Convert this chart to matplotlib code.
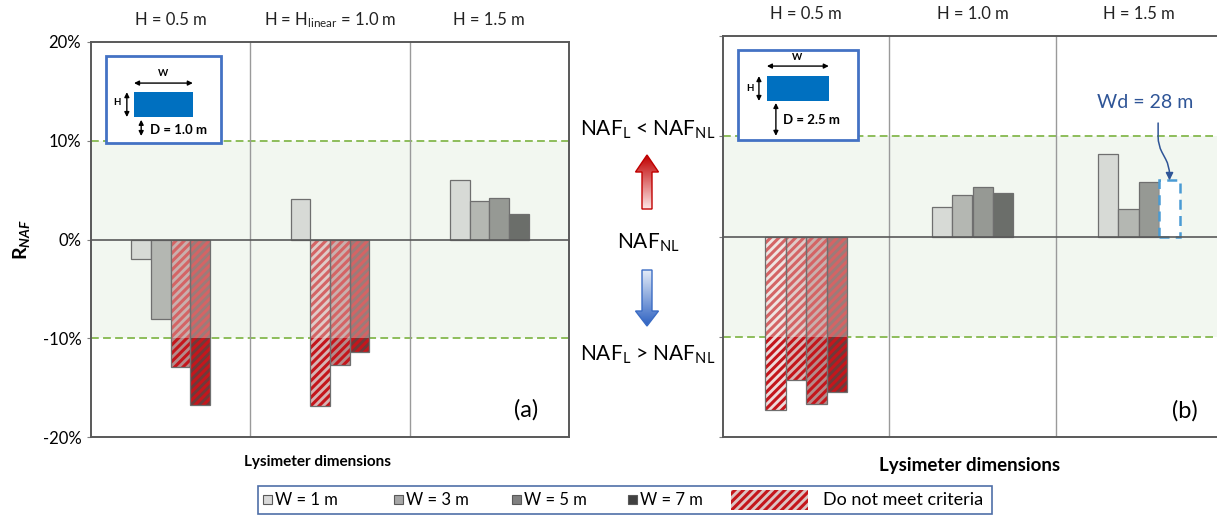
import numpy as np
import matplotlib
matplotlib.use("Agg")
import matplotlib.pyplot as plt
from matplotlib.patches import Rectangle, Polygon, FancyArrowPatch
from matplotlib.transforms import blended_transform_factory

plt.rcParams["font.family"] = ["Lato", "DejaVu Sans"]
plt.rcParams["mathtext.fontset"] = "custom"
plt.rcParams["mathtext.rm"] = "Lato"
plt.rcParams["mathtext.it"] = "Lato:italic"
plt.rcParams["mathtext.bf"] = "Lato:bold"
plt.rcParams["mathtext.bfit"] = "Lato:bold:italic"
plt.rcParams["hatch.linewidth"] = 2.2

# ---- data -------------------------------------------------------------
heights_a = ["H = 0.5 m", r"H = H$_{\mathregular{linear}}$ = 1.0 m", "H = 1.5 m"]
heights_b = ["H = 0.5 m", "H = 1.0 m", "H = 1.5 m"]
width_labels = ["W = 1 m", "W = 3 m", "W = 5 m", "W = 7 m"]

# R_NAF (%) per lysimeter width, one value per height group
rnaf_a_w1 = [-2.0, 4.1, 6.0]
rnaf_a_w3 = [-8.0, -16.9, 3.9]
rnaf_a_w5 = [-12.9, -12.7, 4.2]
rnaf_a_w7 = [-16.8, -11.4, 2.6]

rnaf_b_w1 = [-17.3, 2.9, 8.2]
rnaf_b_w3 = [-14.3, 4.1, 2.7]
rnaf_b_w5 = [-16.7, 4.9, 5.4]
rnaf_b_w7 = [-15.5, 4.3, 5.6]   # last value: Wd = 28 m

criterion = 10.0
yticks = [-20, -10, 0, 10, 20]

# ---- styling ----------------------------------------------------------
gray_faces = ["#d7dad6", "#b4b7b2", "#969994", "#6b6e6a"]
fail_faces = ["#eddada", "#d6b4b4", "#b48a8a", "#6e3a3a"]
legend_faces = ["#d9d9d9", "#a6a6a6", "#808080", "#404040"]
hatch_red = "#c4161c"
edge_gray = "#6f6f6f"
band_green = "#f2f7f0"
dash_green = "#8dbd5a"
frame_gray = "#595959"
inset_blue = "#4472c4"
fill_blue = "#0070c0"
note_blue = "#2f5597"

W, H = 1217, 527
fig = plt.figure(figsize=(W / 100, H / 100), dpi=100)


def px_axes(x0, y0, x1, y1):
    return fig.add_axes([x0 / W, 1 - y1 / H, (x1 - x0) / W, (y1 - y0) / H])


ax_a = px_axes(91, 42, 569, 437)
ax_b = px_axes(723, 36, 1222, 437)

bar_w = 0.123
offsets = (np.arange(4) - 1.5) * bar_w
groups = np.arange(3)


def draw_panel(ax, series, headers, dashed_last=False):
    ax.set_xlim(-0.5, 2.5)
    ax.set_ylim(-20, 20)
    ax.axhspan(-criterion, criterion, color=band_green, zorder=0, lw=0)
    for k, vals in enumerate(series):
        vals = np.asarray(vals, dtype=float)
        x = groups + offsets[k]
        for g in range(3):
            v = vals[g]
            if dashed_last and k == 3 and g == 2:
                ax.bar(x[g], v, bar_w, color="white", edgecolor="#4a9bd4",
                       lw=1.8, ls=(0, (4, 2.5)), zorder=3)
                continue
            if abs(v) > criterion:
                ax.bar(x[g], v, bar_w, color=fail_faces[k], lw=0, zorder=2)
                ax.bar(x[g], v, bar_w, color="none", edgecolor=hatch_red,
                       hatch="////", lw=0, zorder=2.1)
                inside = np.clip(v, -criterion, criterion)
                ax.bar(x[g], inside, bar_w, color=band_green, alpha=0.35,
                       lw=0, zorder=2.2)
                ax.bar(x[g], v, bar_w, color="none", edgecolor=edge_gray,
                       lw=0.9, zorder=2.3)
            else:
                ax.bar(x[g], v, bar_w, color=gray_faces[k],
                       edgecolor=edge_gray, lw=0.9, zorder=2)
    for yv in (-criterion, criterion):
        ax.axhline(yv, color=dash_green, lw=1.4, ls=(0, (4, 2.2)), zorder=1)
    ax.axhline(0, color=frame_gray, lw=1.2, zorder=4)
    for xv in (0.5, 1.5):
        ax.axvline(xv, color="#9a9a9a", lw=1.0, zorder=1)
    for s in ax.spines.values():
        s.set_color(frame_gray)
        s.set_linewidth(1.4)
    ax.set_xticks([])
    ax.set_yticks(yticks)
    ax.tick_params(axis="y", direction="out", length=3, color="#7f7f7f",
                   labelsize=12, pad=4)
    trans = blended_transform_factory(ax.transData, ax.transAxes)
    for g, lab in enumerate(headers):
        ax.text(g, 1.055, lab, transform=trans, ha="center", va="center",
                fontsize=12, color="#222222")


draw_panel(ax_a, [rnaf_a_w1, rnaf_a_w3, rnaf_a_w5, rnaf_a_w7], heights_a)
draw_panel(ax_b, [rnaf_b_w1, rnaf_b_w3, rnaf_b_w5, rnaf_b_w7], heights_b,
           dashed_last=True)
ax_a.set_yticklabels([f"{t}%" for t in yticks])
ax_b.set_yticklabels([])

ax_a.text(0.91, 0.07, "(a)", transform=ax_a.transAxes, fontsize=17,
          ha="center", va="center")
ax_b.text(0.926, 0.065, "(b)", transform=ax_b.transAxes, fontsize=17,
          ha="center", va="center")


# ---- lysimeter sketches -------------------------------------------------
def sketch(ax, box, rect, w_y, h_x, d_x, d_span, w_txt, h_txt, d_txt, d_label):
    t = ax.transAxes
    ax.add_patch(Rectangle((box[0], box[1]), box[2] - box[0], box[3] - box[1],
                           transform=t, facecolor="white", edgecolor=inset_blue,
                           lw=2.0, zorder=6))
    ax.add_patch(Rectangle((rect[0], rect[1]), rect[2] - rect[0], rect[3] - rect[1],
                           transform=t, facecolor=fill_blue, lw=0, zorder=7))
    kw = dict(transform=t, arrowstyle="<|-|>", mutation_scale=7, lw=1.0,
              color="black", zorder=8, shrinkA=0, shrinkB=0)
    ax.add_patch(FancyArrowPatch((rect[0], w_y), (rect[2], w_y), **kw))
    ax.add_patch(FancyArrowPatch((h_x, rect[1]), (h_x, rect[3]), **kw))
    ax.add_patch(FancyArrowPatch((d_x, d_span[0]), (d_x, d_span[1]), **kw))
    ax.text(*w_txt, "W", transform=t, fontsize=7, fontweight="bold",
            ha="center", va="center", zorder=8)
    ax.text(*h_txt, "H", transform=t, fontsize=7, fontweight="bold",
            ha="center", va="center", zorder=8)
    ax.text(*d_txt, d_label, transform=t, fontsize=9.5, fontweight="bold",
            ha="left", va="center", zorder=8)


sketch(ax_a, (0.031, 0.744, 0.272, 0.965), (0.090, 0.810, 0.213, 0.873),
       0.896, 0.075, 0.105, (0.762, 0.803), (0.151, 0.920), (0.054, 0.846),
       (0.123, 0.776), "D = 1.0 m")
sketch(ax_b, (0.030, 0.741, 0.271, 0.965), (0.088, 0.838, 0.212, 0.900),
       0.925, 0.072, 0.106, (0.751, 0.833), (0.148, 0.946), (0.054, 0.868),
       (0.120, 0.790), "D = 2.5 m")

# Wd annotation on the dashed bar
ax_b.text(0.846, 0.835, "Wd = 28 m", transform=ax_b.transAxes, fontsize=14,
          color=note_blue, ha="center", va="center", zorder=9)
ax_b.annotate("", xy=(2 + offsets[3], rnaf_b_w7[2]),
              xytext=(0.872, 0.783), textcoords="axes fraction",
              arrowprops=dict(arrowstyle="-|>", color=note_blue, lw=1.1,
                              mutation_scale=11, shrinkA=0, shrinkB=0,
                              connectionstyle="arc,angleA=-90,angleB=90,"
                                              "armA=22,armB=14,rad=8"),
              zorder=9)

# ---- labels --------------------------------------------------------------
fig.text(22 / W, 1 - 240 / H, r"$\mathbf{R}_{\mathbfit{NAF}}$", rotation=90,
         ha="center", va="center", fontsize=14)
fig.text(318 / W, 1 - 462 / H, "Lysimeter dimensions", ha="center",
         va="center", fontsize=11, fontweight="bold")
fig.text(970 / W, 1 - 465 / H, "Lysimeter dimensions", ha="center",
         va="center", fontsize=13.5, fontweight="bold")

# ---- overlay in pixel coordinates: direction arrows and legend -----------
ov = fig.add_axes([0, 0, 1, 1], zorder=20)
ov.patch.set_alpha(0)
ov.axis("off")

fs_naf = 15
ov.text(648, 130, r"NAF$_{\mathregular{L}}$ < NAF$_{\mathregular{NL}}$",
        ha="center", va="center", fontsize=fs_naf)
ov.text(648, 243, r"NAF$_{\mathregular{NL}}$", ha="center", va="center",
        fontsize=fs_naf)
ov.text(648, 355, r"NAF$_{\mathregular{L}}$ > NAF$_{\mathregular{NL}}$",
        ha="center", va="center", fontsize=fs_naf)


def gradient_arrow(xc, tip, base_head, tail, c_tip, c_tail, edge):
    pts = [(xc, tip), (xc + 11.5, base_head), (xc + 5, base_head),
           (xc + 5, tail), (xc - 5, tail), (xc - 5, base_head),
           (xc - 11.5, base_head)]
    poly = Polygon(pts, closed=True, facecolor="none", edgecolor=edge,
                   lw=1.0, zorder=3)
    ov.add_patch(poly)
    c0 = np.array(matplotlib.colors.to_rgb(c_tip))
    c1 = np.array(matplotlib.colors.to_rgb(c_tail))
    t = np.linspace(0, 1, 64)[:, None]
    img = (c0 * (1 - t) + c1 * t)[:, None, :]
    lo, hi = min(tip, tail), max(tip, tail)
    if tip > tail:
        img = img[::-1]
    im = ov.imshow(img, extent=[xc - 12, xc + 12, hi, lo], aspect="auto",
                   origin="upper", zorder=2, interpolation="bilinear")
    im.set_clip_path(poly)


gradient_arrow(647, 155, 172, 209, "#c00000", "#fde6e6", "#c00000")
gradient_arrow(647, 326, 311, 270, "#2e62c2", "#e3ebf7", "#3b6cc4")

# legend
ov.add_patch(Rectangle((258, 486), 734, 28, facecolor="white",
                       edgecolor="#4f6fa8", lw=1.2))
sq_x = [263, 394, 512, 628]
for k in range(4):
    ov.add_patch(Rectangle((sq_x[k], 495), 9, 9, facecolor=legend_faces[k],
                           edgecolor="#595959", lw=0.8))
    ov.text(sq_x[k] + 12, 500, width_labels[k], ha="left", va="center",
            fontsize=12)
ov.add_patch(Rectangle((731, 490), 77, 20, facecolor="#dcc4c4", lw=0))
ov.add_patch(Rectangle((731, 490), 77, 20, facecolor="none",
                       edgecolor=hatch_red, hatch="////", lw=0))
ov.text(823, 500, "Do not meet criteria", ha="left", va="center", fontsize=13)

ov.set_xlim(0, W)
ov.set_ylim(H, 0)

fig.savefig("out.png", dpi=100)
